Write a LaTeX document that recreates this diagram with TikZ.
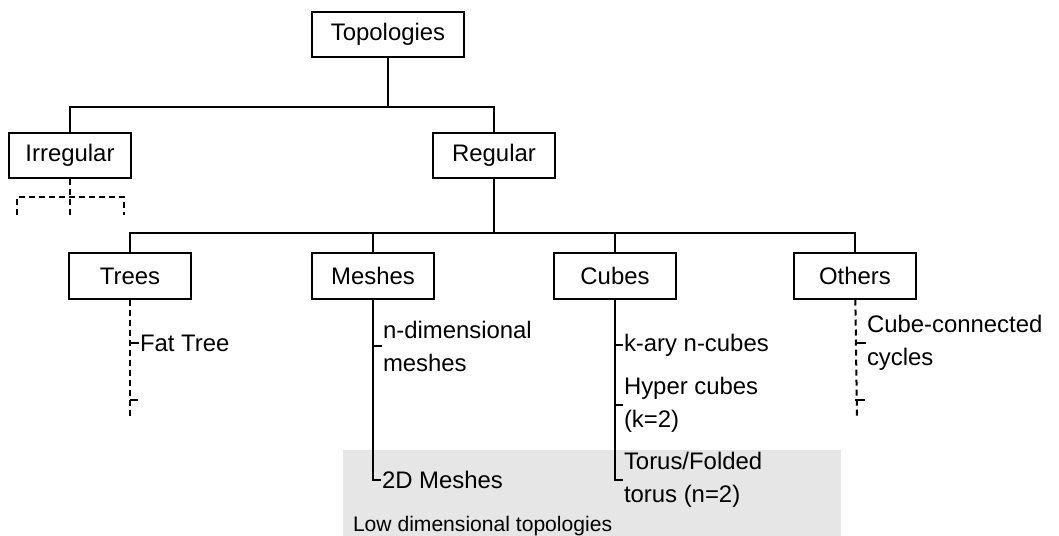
\documentclass[tikz,border=0pt]{standalone}
\usepackage{fontspec}
\setmainfont{Liberation Sans}
\usetikzlibrary{positioning}
\definecolor{lowgray}{RGB}{230,230,230}

\begin{document}
\begin{tikzpicture}[x=0.025cm, y=-0.025cm, line width=0.05cm,
		box/.style={draw, minimum width=3.05cm, minimum height=1.125cm, inner sep=0pt, font=\fontsize{17}{23.5}\selectfont},
		leaf/.style={anchor=west, inner sep=0pt, align=left, font=\fontsize{17}{23.5}\selectfont},
		loose/.style={dash pattern=on 0.15cm off 0.1cm}]
			\useasboundingbox (0,0) rectangle (1059,536);
			% low dimensional area
			\fill[lowgray] (343,450) rectangle (841,536);
			\node[anchor=west, inner sep=0pt, font=\fontsize{15}{17}\selectfont] (lowdim) at (352,526) {Low dimensional topologies};
			% boxes
			\node[box, minimum width=3.8cm] (topo) at (388,34.5) {Topologies};
			\node[box] (irr) at (70,155.5) {Irregular};
			\node[box] (reg) at (494,155.5) {Regular};
			\foreach \name/\x/\txt in {trees/130/Trees, meshes/373/Meshes, cubes/615/Cubes, others/855/Others} {
				\node[box] (\name) at (\x,276) {\txt};
			}
			\coordinate (hubA) at (388,107);
			\coordinate (hubB) at (494,233);
			\draw (topo) -- (hubA) -| (irr);
			\draw (hubA) -| (reg);
			\draw (reg) -- (hubB);
			\foreach \name in {trees, meshes, cubes, others} {
				\draw (hubB) -| (\name);
			}
			% irregular: open ends
			\coordinate (irrhub) at (70,197);
			\coordinate (irrL) at (17,215);
			\coordinate (irrM) at (70,215);
			\coordinate (irrR) at (124,215);
			\draw[loose] (irr) -- (irrM);
			\draw[loose] (irrL) |- (irrhub) -| (irrR);
			% leaves
			\node[leaf] (fat) at (139,343) {Fat Tree};
			\node[leaf] (ndim) at (382,346) {n-dimensional\\meshes};
			\node[leaf] (twod) at (381,480) {2D Meshes};
			\node[leaf] (kary) at (623,345) {k-ary n-cubes};
			\node[leaf] (hyper) at (623,405) {Hyper cubes\\(k=2)};
			\node[leaf] (torus) at (623,480) {Torus/Folded\\torus (n=2)};
			\node[leaf] (ccc) at (866,343) {Cube-connected\\cycles};
			\coordinate (treesend) at (130,418);
			\coordinate (treesstub) at (138,400);
			\coordinate (othersend) at (857,418);
			\coordinate (othersstub) at (865,400);
			\draw[loose] (trees) -- (treesend);
			\draw (trees.south |- fat.west) -- (fat.west);
			\draw (trees.south |- treesstub) -- (treesstub);
			\draw[loose] (others) -- (othersend);
			\draw (others.south |- ccc.west) -- (ccc.west);
			\draw (others.south |- othersstub) -- (othersstub);
			\draw (meshes.south) |- (ndim.west);
			\draw (meshes.south) |- (twod.west);
			\foreach \leaf in {kary, hyper, torus} {
				\draw (cubes.south) |- (\leaf.west);
			}
		\end{tikzpicture}
\end{document}
